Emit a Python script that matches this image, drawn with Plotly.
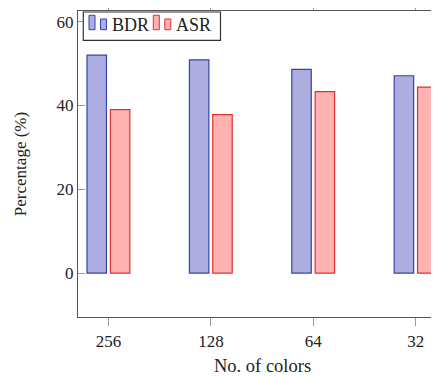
import plotly.graph_objects as go

categories = ["256", "128", "64", "32"]
bdr = [52.0, 50.9, 48.6, 47.1]
asr = [39.0, 37.8, 43.3, 44.4]
series_names = ["BDR", "ASR"]

# page body has an 8px margin, so the figure is drawn 8px in from the window corner
OFF = 8
W, H = 439 - OFF, 378 - OFF
AX_L, AX_T, AX_B = 78, 11, 317.3          # plot-area edges in window pixels
L, T = AX_L - OFF, AX_T - OFF
B = H - (AX_B - OFF)
plot_w = W - L
plot_h = H - T - B

FONT = "Liberation Serif, serif"
AX = "#555555"
TK = "#9a9a9a"
BLUE_FILL, BLUE_EDGE = "#adade1", "#3344aa"
RED_FILL, RED_EDGE = "#ffb2b2", "#e03030"


def px(xw):
    return (xw - AX_L) / plot_w


def py(yw):
    return (AX_B - yw) / plot_h


x = list(range(len(categories)))

fig = go.Figure()
fig.add_trace(go.Bar(
    x=x, y=bdr, name=series_names[0], width=0.19, offset=-0.21,
    marker=dict(color=BLUE_FILL, line=dict(color=BLUE_EDGE, width=1.2)),
    showlegend=False,
))
fig.add_trace(go.Bar(
    x=x, y=asr, name=series_names[1], width=0.19, offset=0.018,
    marker=dict(color=RED_FILL, line=dict(color=RED_EDGE, width=1.2)),
    showlegend=False,
))

# legend drawn as a boxed key (pgfplots ybar-style icons)
shapes = [dict(type="rect", xref="paper", yref="paper",
               x0=px(83.3), x1=px(220.5), y0=py(12), y1=py(40.5),
               line=dict(color="#333333", width=1.2), fillcolor="white", layer="above")]
annotations = []
for (x0, fill, edge, name, tx) in [
    (89, BLUE_FILL, BLUE_EDGE, series_names[0], 109.5),
    (153.3, RED_FILL, RED_EDGE, series_names[1], 174),
]:
    shapes.append(dict(type="rect", xref="paper", yref="paper",
                       x0=px(x0), x1=px(x0 + 6), y0=py(29.7), y1=py(15.3),
                       line=dict(color=edge, width=1), fillcolor=fill, layer="above"))
    shapes.append(dict(type="rect", xref="paper", yref="paper",
                       x0=px(x0 + 11.5), x1=px(x0 + 17.5), y0=py(29.7), y1=py(19),
                       line=dict(color=edge, width=1), fillcolor=fill, layer="above"))
    annotations.append(dict(text=name, xref="paper", yref="paper",
                            x=px(tx), y=py(25.5), xanchor="left", yanchor="middle",
                            showarrow=False, font=dict(family=FONT, size=18, color="#222222")))

annotations.append(dict(
    text="No. of colors", xref="paper", yref="paper",
    x=px(262), y=py(366),
    xanchor="center", yanchor="middle", showarrow=False,
    font=dict(family=FONT, size=18.5, color="#222222"),
))

fig.update_layout(
    width=W, height=H,
    margin=dict(l=L, r=0, t=T, b=B, pad=0, autoexpand=False),
    paper_bgcolor="white", plot_bgcolor="white",
    font=dict(family=FONT, size=17, color="#222222"),
    barmode="group",
    showlegend=False,
    xaxis=dict(
        range=[-0.298, (439 - AX_L - 30.5) / 102.4],
        tickvals=x, ticktext=categories,
        showline=True, linecolor=AX, linewidth=1.3, mirror="ticks",
        ticks="outside", ticklen=8, tickcolor=TK, tickwidth=1,
        showgrid=False, zeroline=False,
        ticklabelstandoff=0,
    ),
    yaxis=dict(
        range=[-10.49, 62.55],
        tickvals=[0, 20, 40, 60],
        showline=True, linecolor=AX, linewidth=1.3, mirror="ticks",
        ticks="inside", ticklen=7, tickcolor=TK, tickwidth=1,
        showgrid=False, zeroline=False,
        title=dict(text="Percentage (%)", standoff=25, font=dict(size=17)),
    ),
    shapes=shapes,
    annotations=annotations,
)

fig.write_html("out.html")
